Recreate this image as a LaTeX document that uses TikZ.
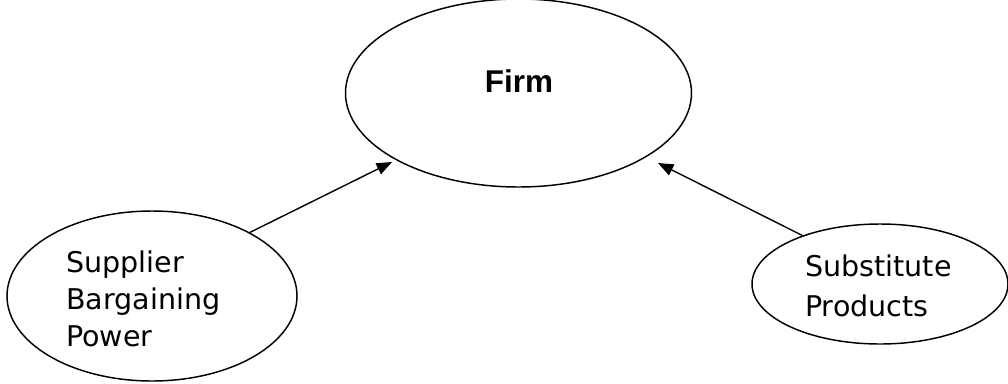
\documentclass[tikz,border=0pt]{standalone}
\usepackage{fontspec}
\setmainfont{DejaVu Sans}
\newfontfamily\firmfont{Liberation Sans}
\usetikzlibrary{shapes.geometric,arrows.meta}

\tikzset{
  force/.style={draw, ellipse, line width=1.1pt, inner sep=0pt},
  words/.style={inner sep=0pt, align=left, anchor=north west},
  push/.style={line width=1.05pt, -{Triangle[length=11.5pt,width=9pt]}}
}

\begin{document}
\begin{tikzpicture}[x=0.75pt,y=-0.75pt]
  \useasboundingbox (0,0) rectangle (1008,383);

  % the three ovals
  \node[force, minimum width=259.5pt, minimum height=141pt] (firm) at (518.5,93) {};
  \node[force, minimum width=217.5pt, minimum height=127.5pt] (supplier) at (152,296) {};
  \node[force, minimum width=192pt, minimum height=90pt] (substitute) at (880,284) {};

  % texts
  \node[inner sep=0pt, anchor=base, font=\firmfont\bfseries\fontsize{23.6}{28}\selectfont] (firmtext) at (519,92.7) {Firm};
  \node[words, font=\fontsize{21.4}{27.5}\selectfont] (suppliertext) at (66,251) {Supplier\\Bargaining\\Power};
  \node[words, font=\fontsize{21.4}{30}\selectfont] (substitutetext) at (805,255) {Substitute\\Products};

  % arrows
  \coordinate (suppliertip) at (392,162);
  \coordinate (substitutetip) at (658,163);
  \draw[push] (supplier.33.8) -- (suppliertip);
  \draw[push] (substitute.148.4) -- (substitutetip);
\end{tikzpicture}
\end{document}
